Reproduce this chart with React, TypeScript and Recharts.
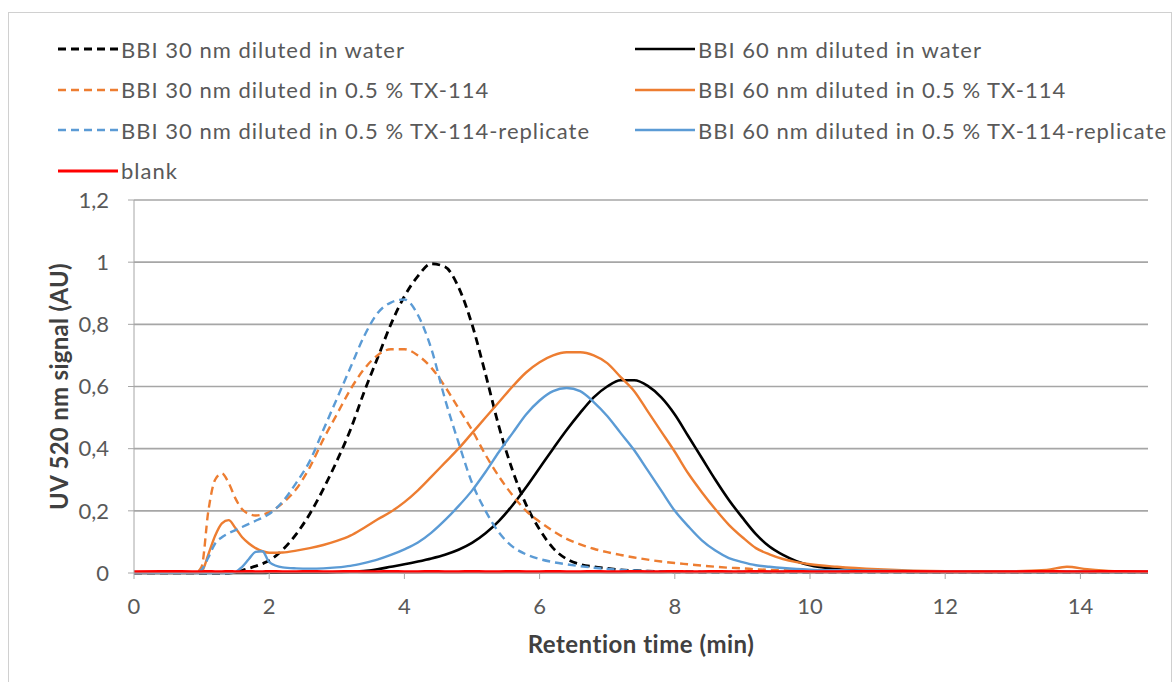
import React from 'react';
import { LineChart, Line, XAxis, YAxis, CartesianGrid, Label } from 'recharts';

// retention time (min)
const times = [
  0, 0.5, 0.9,
  1.0, 1.1, 1.2, 1.3, 1.4, 1.5, 1.6, 1.7, 1.8, 1.9, 2.0,
  2.2, 2.4, 2.6, 2.8, 3.0, 3.2, 3.4, 3.6, 3.8, 4.0, 4.2, 4.4, 4.6, 4.8, 5.0, 5.2, 5.4, 5.6, 5.8, 6.0,
  6.2, 6.4, 6.6, 6.8, 7.0, 7.2, 7.4, 7.6, 7.8, 8.0, 8.2, 8.4, 8.6, 8.8, 9.0, 9.2, 9.4, 9.6, 9.8, 10.0,
  10.4, 11, 12, 13, 13.5, 13.8, 14.1, 14.5, 15,
];

const water30 = [
  0, 0, 0,
  0, 0, 0, 0, 0, 0.003, 0.008, 0.015, 0.022, 0.03, 0.04,
  0.075, 0.125, 0.19, 0.27, 0.36, 0.46, 0.58, 0.69, 0.8, 0.89, 0.955, 0.995, 0.985, 0.92, 0.8, 0.64, 0.47, 0.33, 0.22, 0.14,
  0.08, 0.045, 0.028, 0.02, 0.015, 0.01, 0.008, 0.006, 0.005, 0.004, 0.004, 0.003, 0.003, 0.003, 0.003, 0.003, 0.003, 0.003, 0.003, 0.003,
  0.003, 0.003, 0.003, 0.003, 0.003, 0.003, 0.003, 0.003, 0.003,
];

const water60 = [
  0, 0, 0,
  0, 0, 0, 0, 0, 0, 0, 0, 0, 0, 0.001,
  0.001, 0.001, 0.002, 0.002, 0.003, 0.004, 0.006, 0.012, 0.02, 0.028, 0.037, 0.047, 0.059, 0.075, 0.097, 0.128, 0.168, 0.218, 0.276, 0.338,
  0.4, 0.46, 0.515, 0.565, 0.6, 0.62, 0.62, 0.602, 0.565, 0.51, 0.44, 0.37, 0.3, 0.235, 0.178, 0.125, 0.085, 0.058, 0.038, 0.025,
  0.013, 0.006, 0.003, 0.003, 0.003, 0.003, 0.003, 0.003, 0.003,
];

const tx30 = [
  0, 0, 0,
  0.02, 0.2, 0.3, 0.32, 0.29, 0.24, 0.205, 0.19, 0.185, 0.188, 0.195,
  0.225, 0.27, 0.34, 0.43, 0.51, 0.59, 0.655, 0.7, 0.72, 0.72, 0.7, 0.66, 0.6, 0.53, 0.46, 0.38, 0.31, 0.25, 0.2, 0.165,
  0.135, 0.11, 0.092, 0.078, 0.067, 0.058, 0.05, 0.043, 0.037, 0.032, 0.028, 0.024, 0.02, 0.017, 0.015, 0.012, 0.01, 0.009, 0.008, 0.007,
  0.006, 0.005, 0.004, 0.004, 0.004, 0.004, 0.004, 0.004, 0.004,
];

const tx60 = [
  0, 0, 0,
  0.005, 0.06, 0.12, 0.16, 0.17, 0.145, 0.115, 0.095, 0.08, 0.07, 0.065,
  0.066, 0.072, 0.08, 0.09, 0.103, 0.12, 0.145, 0.172, 0.197, 0.228, 0.266, 0.31, 0.355, 0.4, 0.45, 0.5, 0.55, 0.6, 0.645, 0.678,
  0.7, 0.71, 0.71, 0.7, 0.675, 0.63, 0.585, 0.52, 0.455, 0.39, 0.32, 0.26, 0.205, 0.155, 0.115, 0.08, 0.06, 0.045, 0.035, 0.028,
  0.02, 0.012, 0.006, 0.006, 0.01, 0.02, 0.012, 0.006, 0.005,
];

const rep30 = [
  0, 0, 0,
  0.01, 0.05, 0.095, 0.115, 0.128, 0.138, 0.148, 0.158, 0.168, 0.178, 0.19,
  0.23, 0.29, 0.36, 0.46, 0.56, 0.66, 0.76, 0.835, 0.87, 0.88, 0.83, 0.72, 0.56, 0.42, 0.29, 0.2, 0.13, 0.085, 0.06, 0.045,
  0.035, 0.028, 0.022, 0.017, 0.013, 0.01, 0.008, 0.006, 0.005, 0.004, 0.004, 0.003, 0.003, 0.003, 0.003, 0.003, 0.003, 0.003, 0.003, 0.003,
  0.003, 0.003, 0.003, 0.003, 0.003, 0.003, 0.003, 0.003, 0.003,
];

const rep60 = [
  0, 0, 0,
  0, 0, 0, 0, 0, 0.003, 0.02, 0.045, 0.068, 0.07, 0.035,
  0.018, 0.015, 0.014, 0.015, 0.018, 0.023, 0.032, 0.043, 0.058, 0.076, 0.098, 0.13, 0.17, 0.215, 0.265, 0.325, 0.39, 0.45, 0.51, 0.555,
  0.585, 0.595, 0.585, 0.55, 0.505, 0.45, 0.395, 0.33, 0.265, 0.2, 0.15, 0.105, 0.072, 0.048, 0.035, 0.025, 0.02, 0.016, 0.013, 0.011,
  0.009, 0.007, 0.005, 0.004, 0.004, 0.004, 0.004, 0.004, 0.004,
];

const blank = [
  0.004, 0.005, 0.004,
  0.004, 0.005, 0.004, 0.004, 0.005, 0.004, 0.004, 0.005, 0.004, 0.004, 0.005,
  0.004, 0.004, 0.005, 0.004, 0.004, 0.005, 0.004, 0.004, 0.005, 0.004, 0.004, 0.005, 0.004, 0.004, 0.005, 0.004, 0.004, 0.005, 0.004, 0.004,
  0.005, 0.004, 0.004, 0.005, 0.004, 0.004, 0.005, 0.004, 0.004, 0.005, 0.004, 0.004, 0.005, 0.004, 0.004, 0.005, 0.004, 0.004, 0.005, 0.004,
  0.004, 0.005, 0.004, 0.004, 0.005, 0.004, 0.004, 0.005, 0.004,
];

const xTicks = [0, 2, 4, 6, 8, 10, 12, 14];
const yTicks = [0, 0.2, 0.4, 0.6, 0.8, 1, 1.2];

// legend order = Excel row-wise order
const SERIES = [
  { key: 'w30', name: 'BBI 30 nm diluted in water', color: '#000000', dash: '8 5', width: 2.8, values: water30 },
  { key: 'w60', name: 'BBI 60 nm diluted in water', color: '#000000', dash: undefined, width: 2.6, values: water60 },
  { key: 't30', name: 'BBI 30 nm diluted in 0.5 % TX-114', color: '#ED7D31', dash: '8 5', width: 2.4, values: tx30 },
  { key: 't60', name: 'BBI 60 nm diluted in 0.5 % TX-114', color: '#ED7D31', dash: undefined, width: 2.4, values: tx60 },
  { key: 'r30', name: 'BBI 30 nm diluted in 0.5 % TX-114-replicate', color: '#5B9BD5', dash: '8 5', width: 2.4, values: rep30 },
  { key: 'r60', name: 'BBI 60 nm diluted in 0.5 % TX-114-replicate', color: '#5B9BD5', dash: undefined, width: 2.4, values: rep60 },
  { key: 'blank', name: 'blank', color: '#FF0000', dash: undefined, width: 3, values: blank },
];

const data = times.map((t, i) => {
  const row: any = { t };
  SERIES.forEach(s => { row[s.key] = s.values[i]; });
  return row;
});

const FONT = 'Lato, "Open Sans", sans-serif';

const LegendBox = () => (
  <>
    {SERIES.map((s, i) => {
      const col = i % 2;
      const row = Math.floor(i / 2);
      const top = 36 + row * 40.5 - 15;
      const left = col ? 626 : 49;
      return (
        <div
          key={s.key}
          style={{ position: 'absolute', top, left, height: 30, display: 'flex', alignItems: 'center', whiteSpace: 'nowrap' }}
        >
          <svg width={60} height={8} style={{ display: 'block' }}>
            <line x1={0} y1={4} x2={60} y2={4} stroke={s.color} strokeWidth={s.width} strokeDasharray={s.dash} />
          </svg>
          <span style={{ marginLeft: 3, fontSize: 22, letterSpacing: 1, color: '#595959', fontFamily: FONT }}>{s.name}</span>
        </div>
      );
    })}
  </>
);

const App: React.FC = () => {
  return (
    <div
      style={{
        position: 'absolute', left: 8, top: 12, width: 1162, height: 680,
        border: '1px solid #d0d0d0', background: '#fff', fontFamily: FONT,
      }}
    >
      <LegendBox />
      <LineChart
        width={1162}
        height={668}
        data={data}
        margin={{ top: 187, right: 23, left: 0, bottom: 38 }}
      >
        <CartesianGrid vertical={false} stroke="#a6a6a6" strokeWidth={1.6} />
        <XAxis
          dataKey="t"
          type="number"
          domain={[0, 15]}
          ticks={xTicks}
          height={70}
          interval={0}
          stroke="#a6a6a6"
          tickSize={6}
          tickMargin={19}
          tick={{ fill: '#595959', fontSize: 22, fontFamily: FONT }}
        >
          <Label
            value="Retention time (min)"
            position="insideBottom"
            offset={-10}
            style={{ fill: '#404040', fontSize: 24, fontWeight: 'bold', letterSpacing: 0.5, fontFamily: FONT }}
          />
        </XAxis>
        <YAxis
          type="number"
          domain={[0, 1.2]}
          ticks={yTicks}
          width={125}
          interval={0}
          stroke="#a6a6a6"
          tickSize={6}
          tickMargin={19}
          tickFormatter={(v: number) => String(v).replace('.', ',')}
          tick={{ fill: '#595959', fontSize: 22, fontFamily: FONT }}
        >
          <Label
            value="UV 520 nm signal (AU)"
            angle={-90}
            position="insideLeft"
            offset={50}
            style={{ textAnchor: 'middle', fill: '#404040', fontSize: 24, fontWeight: 'bold', letterSpacing: 0.3, fontFamily: FONT }}
          />
        </YAxis>
        {SERIES.map(s => (
          <Line
            key={s.key}
            dataKey={s.key}
            name={s.name}
            type="monotone"
            stroke={s.color}
            strokeWidth={s.width}
            strokeDasharray={s.dash}
            dot={false}
            activeDot={false}
            isAnimationActive={false}
          />
        ))}
      </LineChart>
    </div>
  );
};

export default App;
